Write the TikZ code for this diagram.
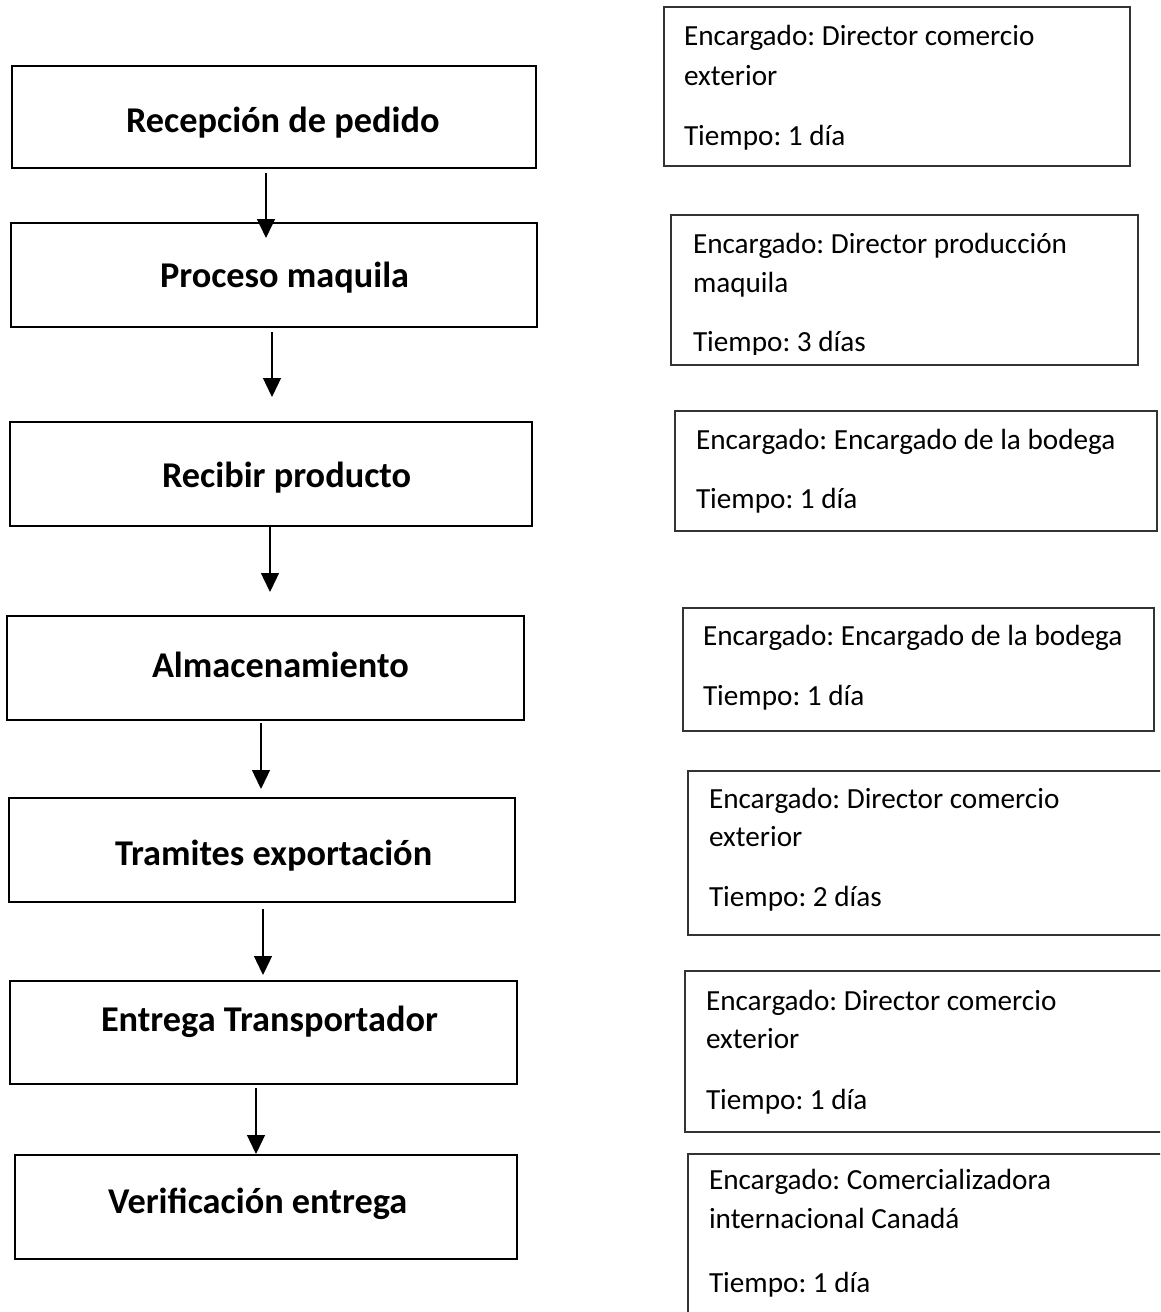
\documentclass[tikz,border=0pt]{standalone}
\usepackage{fontspec}
\setmainfont{Carlito}
\usetikzlibrary{arrows.meta}
\frenchspacing
\newcommand\ltfont{\bfseries\fontsize{36.3}{42}\selectfont}
\newcommand\rtfont{\fontsize{29.2}{35}\selectfont}
\tikzset{
  lbox/.style={draw=black, line width=2.6pt, inner sep=0pt, outer sep=0pt},
  rbox/.style={draw=black!80, line width=1.6pt, inner sep=0pt, outer sep=0pt},
  ltext/.style={anchor=base west, inner sep=0pt, outer sep=0pt, font=\ltfont},
  rtext/.style={anchor=base west, inner sep=0pt, outer sep=0pt, font=\rtfont},
  arr/.style={line width=1.3pt, -{Triangle[width=18pt,length=19pt]}},
}
\begin{document}
\frenchspacing
\begin{tikzpicture}[x=1pt,y=-1pt]
\clip (0,0) rectangle (1160,1312);
\fill[white] (0,0) rectangle (1160,1312);

% left process boxes
\node[lbox, minimum width=524pt, minimum height=102pt] (b1) at (274,117) {};
\node[lbox, minimum width=526pt, minimum height=104pt] (b2) at (274,275) {};
\node[lbox, minimum width=522pt, minimum height=104pt] (b3) at (271,474) {};
\node[lbox, minimum width=517pt, minimum height=104pt] (b4) at (265.5,668) {};
\node[lbox, minimum width=506pt, minimum height=104pt] (b5) at (262,850) {};
\node[lbox, minimum width=507pt, minimum height=103pt] (b6) at (263.5,1032.5) {};
\node[lbox, minimum width=502pt, minimum height=104pt] (b7) at (266,1207) {};

\node[ltext] (t1) at (126,132) {Recepción de pedido};
\node[ltext] (t2) at (160,287) {Proceso maquila};
\node[ltext] (t3) at (162,487) {Recibir producto};
\node[ltext] (t4) at (152,677) {Almacenamiento};
\node[ltext] (t5) at (115,865) {Tramites exportación};
\node[ltext] (t6) at (101,1031) {Entrega Transportador};
\node[ltext] (t7) at (108,1213) {Verificación entrega};

% arrows
\draw[arr] ([xshift=-8pt,yshift=-5pt]b1.south) -- ([xshift=-8pt,yshift=-15pt]b2.north);
\draw[arr] ([xshift=-2pt,yshift=-5pt]b2.south) -- ([xshift=1pt,yshift=25pt]b3.north);
\draw[arr] ([xshift=-1pt,yshift=-1pt]b3.south) -- ([xshift=4.5pt,yshift=24pt]b4.north);
\draw[arr] ([xshift=-4.5pt,yshift=-3pt]b4.south) -- ([xshift=-1pt,yshift=9pt]b5.north);
\draw[arr] ([xshift=1pt,yshift=-7pt]b5.south) -- ([xshift=-0.5pt,yshift=6pt]b6.north);
\draw[arr] ([xshift=-7.5pt,yshift=-4pt]b6.south) -- ([xshift=-10pt,yshift=1pt]b7.north);

% right info boxes
\node[rbox, minimum width=466pt, minimum height=159pt] (r1) at (897,86.5) {};
\node[rbox, minimum width=467pt, minimum height=150pt] (r2) at (904.5,290) {};
\node[rbox, minimum width=482pt, minimum height=120pt] (r3) at (916,471) {};
\node[rbox, minimum width=471pt, minimum height=123pt] (r4) at (918.5,669.5) {};
\node[rbox, minimum width=512pt, minimum height=164pt] (r5) at (944,853) {};
\node[rbox, minimum width=515pt, minimum height=161pt] (r6) at (942.5,1051.5) {};
\node[rbox, minimum width=512pt, minimum height=196pt] (r7) at (944,1252) {};

\node[rtext] (r1a) at (684,45) {Encargado: Director comercio};
\node[rtext] (r1b) at (684,85) {exterior};
\node[rtext] (r1c) at (684,145) {Tiempo: 1 día};

\node[rtext] (r2a) at (693,253) {Encargado: Director producción};
\node[rtext] (r2b) at (693,292) {maquila};
\begin{scope}
\clip (660,300) rectangle (1150,354);
\node[rtext] (r2c) at (693,351) {Tiempo: 3 días};
\end{scope}

\node[rtext] (r3a) at (696,449) {Encargado: Encargado de la bodega};
\node[rtext] (r3b) at (696,508) {Tiempo: 1 día};

\node[rtext] (r4a) at (703,645) {Encargado: Encargado de la bodega};
\node[rtext] (r4b) at (703,705) {Tiempo: 1 día};

\node[rtext] (r5a) at (709,808) {Encargado: Director comercio};
\node[rtext] (r5b) at (709,846) {exterior};
\node[rtext] (r5c) at (709,906) {Tiempo: 2 días};

\node[rtext] (r6a) at (706,1010) {Encargado: Director comercio};
\node[rtext] (r6b) at (706,1048) {exterior};
\node[rtext] (r6c) at (706,1109) {Tiempo: 1 día};

\node[rtext] (r7a) at (709,1189) {Encargado: Comercializadora};
\node[rtext] (r7b) at (709,1228) {internacional Canadá};
\node[rtext] (r7c) at (709,1292) {Tiempo: 1 día};
\end{tikzpicture}
\end{document}
